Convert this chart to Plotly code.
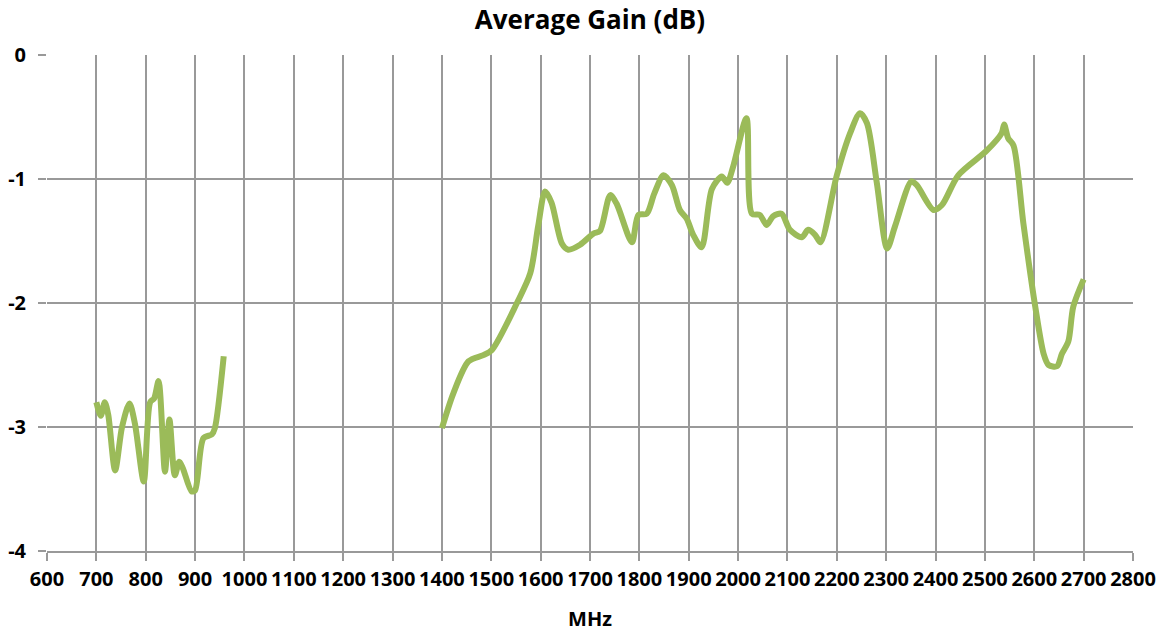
import plotly.graph_objects as go

# Low band (MHz, dB)
freq_low = [700, 709, 717, 724, 738, 752, 767, 778, 796, 809, 817, 826, 839, 848, 859, 868, 875, 893, 900, 917, 934, 940, 958]
gain_low = [-2.80, -2.91, -2.80, -2.90, -3.35, -3.00, -2.81, -2.97, -3.44, -2.80, -2.77, -2.63, -3.36, -2.94, -3.39, -3.28, -3.33, -3.52, -3.51, -3.09, -3.06, -3.01, -2.43]

# High band (MHz, dB)
freq_high = [1400, 1423, 1454, 1484, 1501, 1552, 1579, 1595, 1609, 1622, 1643, 1656, 1680, 1707, 1720,
             1741, 1754, 1785, 1798, 1815, 1830, 1849, 1866, 1882, 1896, 1909, 1926, 1947, 1967, 1978,
             1990, 2017, 2028, 2044, 2058, 2071, 2088, 2105, 2129, 2142, 2156, 2167, 2200, 2227, 2247,
             2261, 2281, 2302, 2318, 2351, 2362, 2396, 2413, 2446, 2504, 2534, 2539, 2547, 2558, 2578,
             2602, 2619, 2629, 2646, 2656, 2669, 2679, 2700]
gain_high = [-3.01, -2.73, -2.47, -2.42, -2.38, -2.00, -1.76, -1.38, -1.10, -1.19, -1.52, -1.57, -1.53, -1.44, -1.42,
             -1.13, -1.20, -1.51, -1.29, -1.28, -1.12, -0.97, -1.05, -1.25, -1.32, -1.45, -1.55, -1.08, -0.98, -1.03,
             -0.90, -0.51, -1.28, -1.29, -1.37, -1.30, -1.28, -1.41, -1.47, -1.41, -1.45, -1.51, -0.97, -0.63, -0.47,
             -0.55, -1.03, -1.56, -1.38, -1.02, -1.05, -1.25, -1.21, -0.97, -0.77, -0.63, -0.56, -0.67, -0.73, -1.36,
             -2.03, -2.41, -2.50, -2.51, -2.41, -2.31, -2.03, -1.81]

x_ticks = list(range(600, 2801, 100))
y_ticks = [0, -1, -2, -3, -4]

x_all = freq_low + [None] + freq_high
y_all = gain_low + [None] + gain_high

FONT = "Open Sans"
GRID = "#999999"

fig = go.Figure()
fig.add_trace(go.Scatter(
    x=x_all, y=y_all, mode="lines",
    line=dict(color="#9BBB59", width=6, shape="spline", smoothing=0.8),
    connectgaps=False, showlegend=False, hoverinfo="x+y",
))

fig.update_layout(
    width=1166, height=632,
    margin=dict(l=47, r=33, t=55, b=81),
    paper_bgcolor="white", plot_bgcolor="white",
    title=dict(text="Average Gain (dB)", x=0.5, xref="paper", y=1 - 20 / 632, yref="container",
               xanchor="center", yanchor="middle",
               font=dict(family=FONT, size=26, color="#000", weight="bold")),
    font=dict(family=FONT, color="#000"),
)

fig.update_xaxes(
    range=[600, 2800], tickmode="array", tickvals=x_ticks, ticktext=[str(v) for v in x_ticks],
    tickangle=0, automargin=False, showgrid=True, gridcolor=GRID, gridwidth=2,
    showline=True, linecolor=GRID, linewidth=2, zeroline=False,
    ticks="outside", ticklen=8, tickwidth=2, tickcolor=GRID, ticklabelstandoff=1,
    tickfont=dict(family=FONT, size=20, color="#000", weight="bold"),
    title=dict(text="MHz", font=dict(family=FONT, size=20, color="#000", weight="bold"), standoff=22),
)
fig.update_yaxes(
    range=[-4, 0], tickmode="array", tickvals=y_ticks, ticktext=[str(v) for v in y_ticks],
    automargin=False, showgrid=True, gridcolor=GRID, gridwidth=2,
    showline=False, zeroline=False,
    ticks="outside", ticklen=8, tickwidth=2, tickcolor=GRID,
    ticklabelstandoff=8,
    tickfont=dict(family=FONT, size=20, color="#000", weight="bold"),
)

# Remove the default 8px page margin so the figure fills the 1166x632 window exactly.
fig.write_html("out.html", config={"displayModeBar": False},
               post_script="document.body.style.margin='0px';")
